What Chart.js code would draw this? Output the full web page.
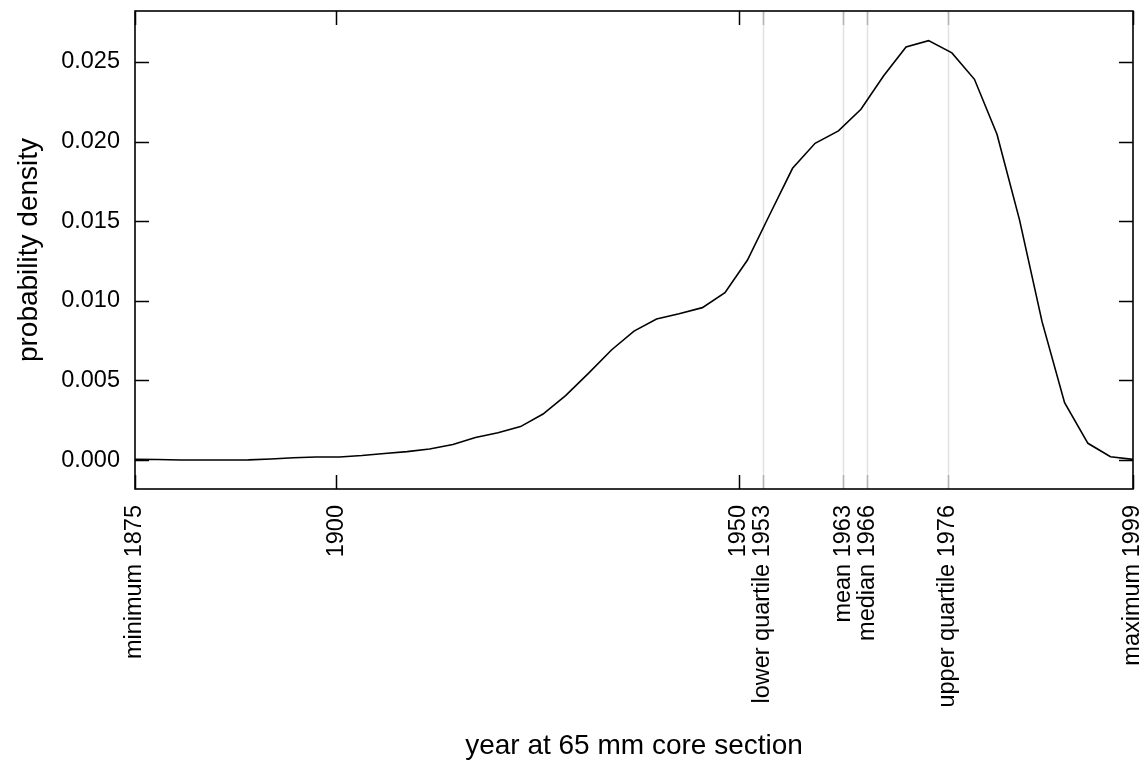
<!DOCTYPE html>
<html>
<head>
<meta charset="utf-8">
<script src="https://cdn.jsdelivr.net/npm/chart.js@4.4.1/dist/chart.umd.min.js"></script>
<style>
  html, body { margin: 0; padding: 0; background: #ffffff; }
  #wrap { width: 1148px; height: 767px; }
</style>
</head>
<body>
<div id="wrap"><canvas id="c" width="1148" height="767"></canvas></div>
<script>
// ---- data ----
const years = [1875.0, 1877.8, 1880.6, 1883.5, 1886.3, 1889.1, 1891.9, 1894.7, 1897.5, 1900.4,
  1903.2, 1906.0, 1908.8, 1911.6, 1914.5, 1917.3, 1920.1, 1922.9, 1925.7, 1928.5,
  1931.4, 1934.2, 1937.0, 1939.8, 1942.6, 1945.5, 1948.3, 1951.1, 1953.9, 1956.7,
  1959.5, 1962.4, 1965.2, 1968.0, 1970.8, 1973.6, 1976.5, 1979.3, 1982.1, 1984.9,
  1987.7, 1990.5, 1993.4, 1996.2, 1999.0];
const density = [0.00004, 0.00003, 0.00000, 0.00000, 0.00000, 0.00001, 0.00006, 0.00014, 0.00019, 0.00019,
  0.00028, 0.00041, 0.00053, 0.00069, 0.00097, 0.00141, 0.00171, 0.00210, 0.00289, 0.00405,
  0.00547, 0.00691, 0.00810, 0.00886, 0.00919, 0.00957, 0.01051, 0.01256, 0.01545, 0.01832,
  0.01989, 0.02067, 0.02203, 0.02412, 0.02594, 0.02634, 0.02557, 0.02391, 0.02046, 0.01508,
  0.00869, 0.00360, 0.00105, 0.00021, 0.00004];

const xTickValues = [1875, 1900, 1950, 1953, 1963, 1966, 1976, 1999];
const xTickLabels = ['minimum 1875', '1900', '1950', 'lower quartile 1953', 'mean 1963', 'median 1966', 'upper quartile 1976', 'maximum 1999'];
const markerYears = [1953, 1963, 1966, 1976];
const yTickValues = [0, 0.005, 0.010, 0.015, 0.020, 0.025];

const FONT = "'Liberation Sans', Arial, Helvetica, sans-serif";

const framePlugin = {
  id: 'frame',
  beforeDatasetsDraw(chart) {
    const {ctx, chartArea: a, scales: {x, y}} = chart;
    ctx.save();
    // marker lines (quartiles, mean, median)
    ctx.strokeStyle = '#e2e2e2';
    ctx.lineWidth = 1.5;
    markerYears.forEach(v => {
      const px = Math.round(x.getPixelForValue(v)) + 0.5;
      ctx.beginPath(); ctx.moveTo(px, a.top); ctx.lineTo(px, a.bottom); ctx.stroke();
    });
    ctx.restore();
  },
  afterDatasetsDraw(chart) {
    const {ctx, chartArea: a, scales: {x, y}} = chart;
    const L = 14;
    ctx.save();
    ctx.lineWidth = 1.5;
    // x ticks (bottom & top), inward
    xTickValues.forEach(v => {
      const px = Math.round(x.getPixelForValue(v)) + 0.5;
      ctx.strokeStyle = markerYears.includes(v) ? '#b4b4b4' : '#000000';
      ctx.beginPath();
      ctx.moveTo(px, a.bottom); ctx.lineTo(px, a.bottom - L);
      ctx.moveTo(px, a.top); ctx.lineTo(px, a.top + L);
      ctx.stroke();
    });
    // y ticks (left & right), inward
    ctx.strokeStyle = '#000000';
    yTickValues.forEach(v => {
      const py = Math.round(y.getPixelForValue(v)) + 0.5;
      ctx.beginPath();
      ctx.moveTo(a.left, py); ctx.lineTo(a.left + L, py);
      ctx.moveTo(a.right, py); ctx.lineTo(a.right - L, py);
      ctx.stroke();
    });
    // box
    ctx.strokeStyle = '#000000';
    ctx.lineWidth = 1.6;
    ctx.strokeRect(a.left, a.top, a.right - a.left, a.bottom - a.top);
    ctx.restore();
  }
};

new Chart(document.getElementById('c'), {
  type: 'scatter',
  data: {
    datasets: [{
      data: years.map((yr, i) => ({x: yr, y: density[i]})),
      showLine: true,
      borderColor: '#000000',
      borderWidth: 1.6,
      pointRadius: 0,
      tension: 0,
      fill: false
    }]
  },
  options: {
    responsive: false,
    animation: false,
    layout: { padding: { top: 11, right: 15, left: 0, bottom: 0 } },
    plugins: { legend: { display: false }, tooltip: { enabled: false } },
    scales: {
      x: {
        type: 'linear',
        min: 1875, max: 1999,
        grid: { display: false, drawTicks: false },
        border: { display: false },
        afterBuildTicks: s => { s.ticks = xTickValues.map(v => ({value: v})); },
        afterFit: s => { s.height = 278; s.paddingLeft = 0; s.paddingRight = 0; },
        ticks: {
          autoSkip: false,
          minRotation: 90, maxRotation: 90,
          padding: 16,
          color: '#000000',
          font: { family: FONT, size: 23.5, lineHeight: 1 },
          callback: (value, index) => xTickLabels[index]
        },
        title: {
          display: true,
          text: 'year at 65 mm core section',
          color: '#000000',
          font: { family: FONT, size: 28, lineHeight: 1 },
          padding: { top: 0, bottom: 7 }
        }
      },
      y: {
        type: 'linear',
        min: -0.00182, max: 0.0282,
        grid: { display: false, drawTicks: false },
        border: { display: false },
        afterBuildTicks: s => { s.ticks = yTickValues.map(v => ({value: v})); },
        afterFit: s => { s.width = 135; s.paddingTop = 0; s.paddingBottom = 0; },
        ticks: {
          padding: 15,
          color: '#000000',
          font: { family: FONT, size: 23.5, lineHeight: 1 },
          callback: v => Number(v).toFixed(3)
        },
        title: {
          display: true,
          text: 'probability density',
          color: '#000000',
          font: { family: FONT, size: 28, lineHeight: 1 },
          padding: { top: 15, bottom: 0 }
        }
      }
    }
  },
  plugins: [framePlugin]
});
</script>
</body>
</html>
